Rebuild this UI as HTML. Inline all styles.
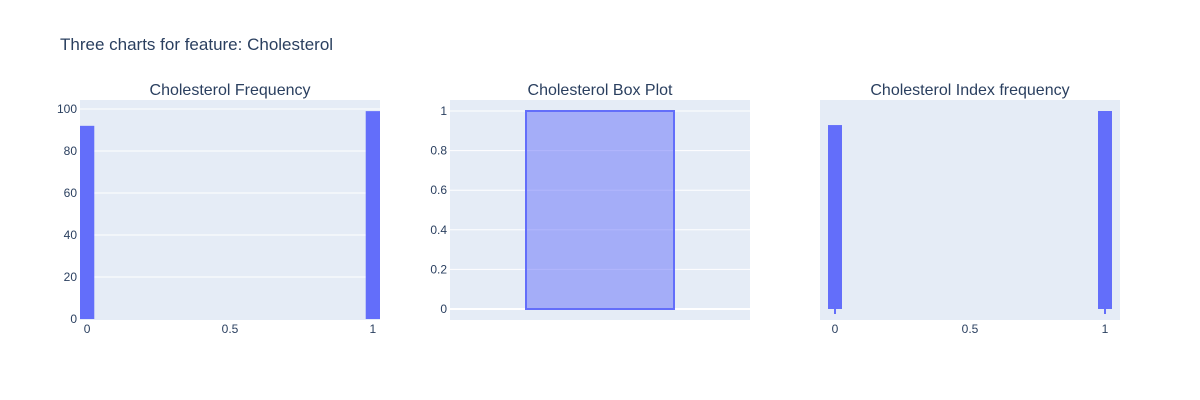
<!DOCTYPE html>
<html><head><meta charset="utf-8"><style>
body{margin:0;background:#fff;}
svg{display:block;font-family:"Liberation Sans",sans-serif;}
</style></head><body>
<svg id="chart" width="1200" height="400" xmlns="http://www.w3.org/2000/svg">
<text x="60" y="50" font-size="17" fill="#2a3f5f">Three charts for feature: Cholesterol</text>
</svg>
<script>
const histCategories = [0, 1];
const histCounts = [92, 99];
const histYTicks = [0, 20, 40, 60, 80, 100];
const xTicks = [0, 0.5, 1];
const boxStats = [0, 0, 1, 1, 1]; // min, q1, median, q3, max
const boxYTicks = [0, 0.2, 0.4, 0.6, 0.8, 1];
const indexCategories = [0, 1];
const indexFreq = [0.929, 1];

const NS = "http://www.w3.org/2000/svg";
const svg = document.getElementById('chart');
function mk(tag, attrs, parent) {
  const e = document.createElementNS(NS, tag);
  for (const k in attrs) e.setAttribute(k, attrs[k]);
  (parent || svg).appendChild(e);
  return e;
}
function txt(s, attrs) { const e = mk('text', attrs); e.textContent = s; return e; }

function panel(x0, title, name) {
  const g = mk('rect', {x: x0, y: 100, width: 300, height: 220, fill: '#e5ecf6'});
  
  
  const t = txt(title, {x: x0 + 150, y: 95, 'font-size': 16, fill: '#2a3f5f', 'text-anchor': 'middle'});
  
  
}

// Panel 1: histogram
panel(80, 'Cholesterol Frequency', 'frequency');
const x1 = v => 80 + (v + 0.025) / 1.05 * 300;
const y1 = v => 319 - v / 104.3 * 219;
histYTicks.forEach(v => {
  if (v > 0) { const l = mk('line', {x1: 80, x2: 380, y1: y1(v), y2: y1(v), stroke: '#fff', 'stroke-width': 1});
      }
  const t = txt(String(v), {x: 77, y: y1(v) + 4, 'font-size': 12, fill: '#2a3f5f', 'text-anchor': 'end'});
   
});
histCategories.forEach((c, i) => {
  const r = mk('rect', {x: x1(c - 0.025), y: y1(histCounts[i]), width: x1(c + 0.025) - x1(c - 0.025), height: y1(0) - y1(histCounts[i]), fill: '#636efa'});
   
});
xTicks.forEach(v => {
  const t = txt(String(v), {x: x1(v), y: 333, 'font-size': 12, fill: '#2a3f5f', 'text-anchor': 'middle'});
   
});

// Panel 2: box plot
panel(450, 'Cholesterol Box Plot', 'box');
const y2 = v => 309 - v * 198;
boxYTicks.forEach(v => {
  const l = mk('line', {x1: 450, x2: 750, y1: y2(v), y2: y2(v), stroke: '#fff', 'stroke-width': v === 0 ? 2 : 1});
   
  const t = txt(String(v), {x: 447, y: y2(v) + 4, 'font-size': 12, fill: '#2a3f5f', 'text-anchor': 'end'});
   
});
const bx = mk('rect', {x: 526, y: y2(boxStats[3]), width: 148, height: y2(boxStats[1]) - y2(boxStats[3]), fill: 'rgba(99,110,250,0.5)', stroke: '#636efa', 'stroke-width': 2});
 
const md = mk('line', {x1: 526, x2: 674, y1: y2(boxStats[2]), y2: y2(boxStats[2]), stroke: '#636efa', 'stroke-width': 2});
 

// Panel 3: index frequency
panel(820, 'Cholesterol Index frequency', 'index');
const x3 = v => 835 + v * 270;
const y3 = v => 309 - v * 198;
indexCategories.forEach((c, i) => {
  const r = mk('rect', {x: x3(c) - 7, y: y3(indexFreq[i]), width: 14, height: y3(0) - y3(indexFreq[i]), fill: '#636efa'});
   
  const s = mk('line', {x1: x3(c), x2: x3(c), y1: y3(0), y2: y3(0) + 5, stroke: '#636efa', 'stroke-width': 2});
   
});
xTicks.forEach(v => {
  const t = txt(String(v), {x: x3(v), y: 333, 'font-size': 12, fill: '#2a3f5f', 'text-anchor': 'middle'});
   
});
</script>
</body></html>
